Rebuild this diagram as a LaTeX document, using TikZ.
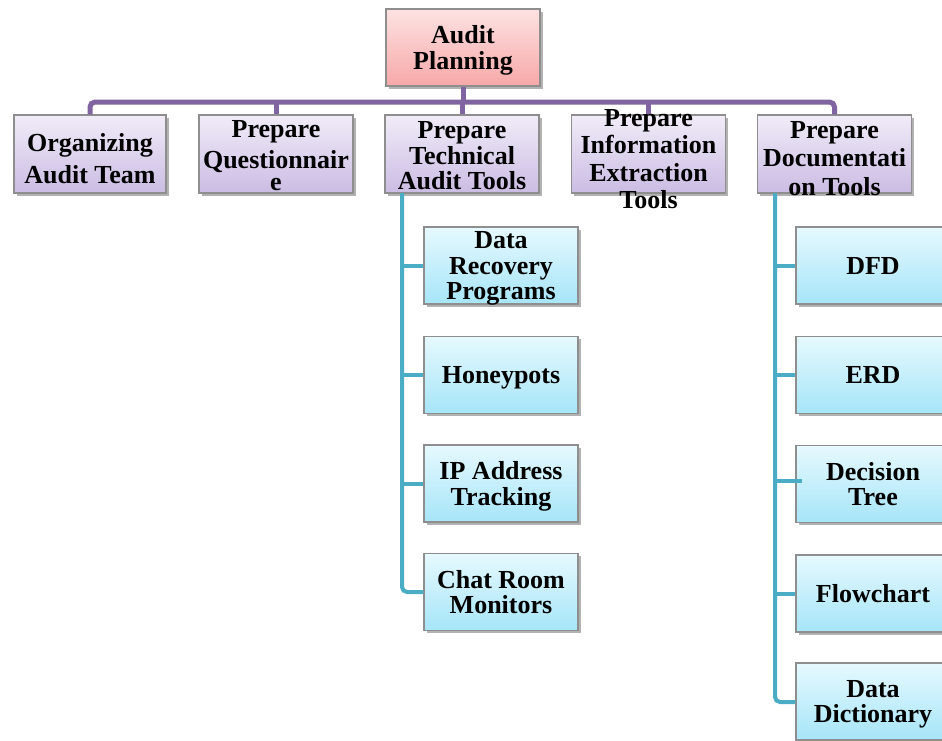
\documentclass[tikz,border=0pt]{standalone}
\usepackage{fontspec}
\setmainfont{Liberation Serif}
\usetikzlibrary{shadows,calc}
\definecolor{boxgray}{HTML}{8E8E8E}
\definecolor{pinktop}{HTML}{FDE2E2}
\definecolor{pinkbot}{HTML}{F7A8A8}
\definecolor{purtop}{HTML}{F1ECF8}
\definecolor{purbot}{HTML}{CBBCE3}
\definecolor{bluetop}{HTML}{E6F9FE}
\definecolor{bluebot}{HTML}{A6E5F8}
\definecolor{purline}{HTML}{8064A2}
\definecolor{tealline}{HTML}{4BACC6}
\begin{document}
\begin{tikzpicture}[x=1pt,y=-1pt,
  box/.style={draw=boxgray, line width=1.3pt, align=center, inner sep=0pt,
    font=\bfseries\fontsize{26}{25.5}\selectfont, text depth=0pt,
    minimum width=154pt, minimum height=77pt,
    drop shadow={shadow xshift=2.5pt, shadow yshift=-2.5pt, opacity=0.3, fill=black}},
  pinkbox/.style={box, top color=pinktop, bottom color=pinkbot},
  purbox/.style={box, top color=purtop, bottom color=purbot, minimum height=78pt},
  bluebox/.style={box, top color=bluetop, bottom color=bluebot},
  txt/.style={align=center, inner sep=0pt, font=\bfseries\fontsize{26}{27}\selectfont},
  pline/.style={draw=purline, line width=5pt, rounded corners=5pt},
  tline/.style={draw=tealline, line width=4pt, rounded corners=5pt}
]
\useasboundingbox[fill=white] (0,0) rectangle (942,740);

% root
\node[pinkbox] (ap) at (463,47.5) {Audit\\Planning};

% level 1
\node[purbox, minimum width=152pt,
  label={[txt, yshift=-5pt, font=\bfseries\fontsize{26}{32}\selectfont]center:{Organizing\\Audit Team}}] (org) at (90,154) {};
\node[purbox, label={[txt, yshift=-2pt, font=\bfseries\fontsize{26}{25}\selectfont]center:{Prepare\\[6pt]Questionnair\\[-3pt]e}}] (q) at (276,154) {};
\node[purbox, label={[txt, yshift=-2pt, font=\bfseries\fontsize{26}{25.5}\selectfont]center:{Prepare\\Technical\\Audit Tools}}] (tech) at (462,154) {};
\node[purbox, label={[txt, yshift=-5pt, font=\bfseries\fontsize{26}{27.3}\selectfont]center:{Prepare\\Information\\Extraction\\Tools}}] (info) at (648.5,154) {};
\node[purbox, label={[txt, yshift=-4.5pt, font=\bfseries\fontsize{26}{28.5}\selectfont]center:{Prepare\\Documentati\\on Tools}}] (doc) at (834.5,154) {};

% level 2 left
\node[bluebox] (drp) at (501,265.5) {Data\\Recovery\\Programs};
\node[bluebox] (hp) at (501,375) {Honeypots};
\node[bluebox] (ip) at (501,483.5) {IP Address\\Tracking};
\node[bluebox] (crm) at (501,592) {Chat Room\\Monitors};

% level 2 right
\node[bluebox] (dfd) at (873,265.5) {DFD};
\node[bluebox] (erd) at (873,375) {ERD};
\node[bluebox] (dt) at (873,484) {Decision\\Tree};
\node[bluebox] (fc) at (873,593.5) {Flowchart};
\node[bluebox] (dd) at (873,701.5) {Data\\Dictionary};

% purple connectors
\coordinate (bus) at (463,102);
\draw[pline] (ap.south) -- (bus);
\draw[pline] (org.north) -- (org.north |- bus) -- (doc.north |- bus) -- (doc.north);
\draw[pline] (q.north |- bus) -- (q.north);
\draw[pline] (tech.north |- bus) -- (tech.north);
\draw[pline] (info.north |- bus) -- (info.north);

% teal connectors
\coordinate (tl) at (402,193);
\draw[tline] (tl) |- (crm.west);
\draw[tline] (tl |- drp.west) -- (drp.west);
\draw[tline] (tl |- hp.west) -- (hp.west);
\draw[tline] (tl |- ip.west) -- (ip.west);

\coordinate (tr) at (775,193);
\draw[tline] (tr) |- ($(dd.west)+(0,0.5)$);
\draw[tline] (tr |- dfd.west) -- (dfd.west);
\draw[tline] (tr |- erd.west) -- (erd.west);
\draw[tline] ($(tr |- dt.west)+(0,-3)$) -- ($(dt.west)+(7,-3)$);
\draw[tline] (tr |- fc.west) -- (fc.west);
\end{tikzpicture}
\end{document}
